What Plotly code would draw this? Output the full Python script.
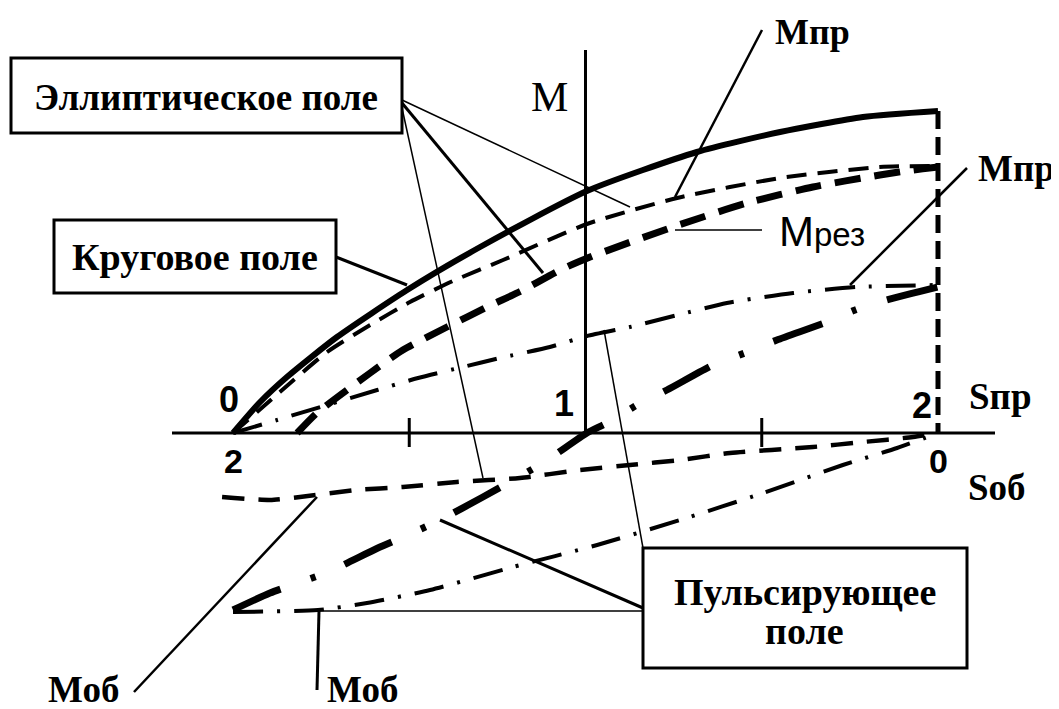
import plotly.graph_objects as go

# ---------------- data (s = slip of forward field, M = torque, arbitrary units) -------------
# Circular field, forward torque (solid)
s_circ = [0.0, 0.077, 0.153, 0.295, 0.494, 0.701, 1.004, 1.316, 1.552, 1.787, 2.0]
m_circ = [0.0, 0.31, 0.56, 0.96, 1.43, 1.86, 2.42, 2.81, 3.01, 3.16, 3.22]

# Elliptic field, forward torque Mпр (thin dashed)
s_ell_fwd = [0.0, 0.133, 0.267, 0.389, 0.502, 0.624, 0.766, 1.004, 1.260, 1.552, 1.835, 2.0]
m_ell_fwd = [0.0, 0.41, 0.81, 1.08, 1.31, 1.52, 1.73, 2.09, 2.35, 2.55, 2.66, 2.67]

# Elliptic field, resulting torque Mрез (thick dashed)
s_ell_res = [0.182, 0.238, 0.389, 0.482, 0.607, 0.721, 0.823, 0.928, 1.013, 1.248, 1.458, 1.645, 1.835, 1.929, 2.0]
m_ell_res = [0.0, 0.20, 0.60, 0.83, 1.06, 1.26, 1.43, 1.63, 1.76, 2.06, 2.30, 2.46, 2.58, 2.63, 2.66]

# Elliptic field, backward torque Mоб (thin dashed, below axis)
s_ell_bwd = [-0.031, 0.105, 0.190, 0.352, 0.482, 0.635, 0.814, 0.984, 1.126, 1.268, 1.410, 1.645, 1.787, 1.929, 2.0]
m_ell_bwd = [-0.64, -0.67, -0.64, -0.57, -0.54, -0.49, -0.45, -0.37, -0.32, -0.27, -0.20, -0.14, -0.09, -0.04, 0.0]

# Pulsating field, forward torque Mпр (thin dash-dot)
s_pul_fwd = [0.0, 0.125, 0.409, 0.525, 0.652, 0.757, 0.899, 1.004, 1.126, 1.262, 1.401, 1.589, 1.770, 2.0]
m_pul_fwd = [0.0, 0.13, 0.43, 0.55, 0.66, 0.75, 0.86, 0.97, 1.06, 1.18, 1.30, 1.40, 1.46, 1.48]

# Pulsating field, resulting torque (thick dash-dot)
s_pul_res = [0.0, 0.105, 0.184, 0.270, 0.411, 0.496, 0.587, 0.709, 0.879, 1.004, 1.061, 1.146,
             1.231, 1.362, 1.452, 1.543, 1.685, 1.765, 1.855, 2.0]
m_pul_res = [-1.77, -1.60, -1.50, -1.39, -1.15, -1.02, -0.87, -0.64, -0.30, 0.0, 0.10, 0.28,
             0.43, 0.68, 0.80, 0.93, 1.11, 1.23, 1.33, 1.46]

# Pulsating field, backward torque Mоб (thin dash-dot, below axis)
s_pul_bwd = [0.0, 0.241, 0.380, 0.559, 0.794, 1.033, 1.268, 1.504, 1.730, 1.884, 2.0]
m_pul_bwd = [-1.79, -1.77, -1.70, -1.57, -1.34, -1.12, -0.87, -0.60, -0.32, -0.15, 0.0]

# Axis tick labels
top_ticks = ["0", "1", "2"]
top_tick_s = [0.0, 1.0, 2.0]
bottom_ticks = ["2", "0"]
bottom_tick_s = [0.0, 2.0]
minor_tick_s = [0.5, 1.5]

# ---------------- layout helpers -------------
PAGE_W, PAGE_H = 1059, 709
OFF = 8                       # default body margin of the html page
W, H = PAGE_W - OFF, PAGE_H - OFF
SX0, SXK = 233.0, 352.5       # page px of s=0, px per unit of s
MY0, MYK = 433.0, 100.0       # page px of M=0, px per unit of M
X_MIN, X_MAX = (OFF - SX0) / SXK, (PAGE_W - SX0) / SXK
Y_MIN, Y_MAX = (MY0 - PAGE_H) / MYK, (MY0 - OFF) / MYK


def P(px, py):
    return (px - OFF) / W, 1 - (py - OFF) / H


SERIF = "Liberation Serif, Times New Roman, serif"
SANS = "Liberation Sans, Arial, sans-serif"

fig = go.Figure()


def curve(s, m, width, dash):
    fig.add_trace(go.Scatter(x=s, y=m, mode="lines",
                             line=dict(color="black", width=width, dash=dash, shape="spline", smoothing=0.6),
                             hoverinfo="skip", showlegend=False))


curve(s_circ, m_circ, 6, "solid")
curve([s_circ[-1], s_circ[-1]], [m_circ[-1], 0.0], 5, "18px,8px")
curve(s_ell_fwd, m_ell_fwd, 4, "20px,11px")
curve(s_ell_res, m_ell_res, 7, "26px,14px")
curve(s_ell_bwd, m_ell_bwd, 4.5, "22px,14px")
curve(s_pul_fwd, m_pul_fwd, 4, "30px,14px,3px,14px")
curve(s_pul_res, m_pul_res, 7, "52px,32px,5px,32px")
curve(s_pul_bwd, m_pul_bwd, 4, "30px,14px,3px,14px")

shapes = []
# axes
shapes.append(dict(type="line", xref="x", yref="y", x0=(172 - SX0) / SXK, x1=(995 - SX0) / SXK,
                   y0=0, y1=0, line=dict(color="black", width=3)))
shapes.append(dict(type="line", xref="x", yref="y", x0=1.0, x1=1.0, y0=0, y1=3.83,
                   line=dict(color="black", width=3)))
for t in minor_tick_s:
    shapes.append(dict(type="line", xref="x", yref="y", x0=t, x1=t, y0=0.15, y1=-0.14,
                       line=dict(color="black", width=3)))


def seg(p1, p2, w):
    a, b = P(*p1), P(*p2)
    shapes.append(dict(type="line", xref="paper", yref="paper", x0=a[0], y0=a[1], x1=b[0], y1=b[1],
                       line=dict(color="black", width=w)))


def box(p1, p2):
    a, b = P(*p1), P(*p2)
    shapes.append(dict(type="rect", xref="paper", yref="paper", x0=a[0], y0=a[1], x1=b[0], y1=b[1],
                       line=dict(color="black", width=3), fillcolor="white"))


# leader lines
seg((402, 100), (630, 207), 1.5)
seg((402, 103), (543, 273), 3)
seg((402, 108), (483, 478), 1.5)
seg((336, 257), (407, 285), 3)
seg((762, 30), (675, 197), 2.5)
seg((967, 168), (850, 285), 2.5)
seg((762, 230), (675, 230), 1.5)
seg((643, 548), (604, 330), 1.5)
seg((643, 608), (440, 520), 3)
seg((643, 611), (318, 611), 1.5)
seg((134, 692), (317, 497), 2.5)
seg((319, 611), (317, 690), 3)

# boxes
box((11, 58), (402, 133))
box((54, 220), (336, 293))
box((643, 548), (967, 668))

ann = []


def txt(text, px, py, size, family=SERIF, bold=True, xanchor="center"):
    x, y = P(px, py)
    ann.append(dict(text=text, x=x, y=y, xref="paper", yref="paper", showarrow=False,
                    xanchor=xanchor, yanchor="middle",
                    font=dict(family=family, size=size, color="black", weight="bold" if bold else "normal")))


txt("Эллиптическое поле", 206, 97, 37)
txt("Круговое поле", 195, 257, 38)
txt("Пульсирующее", 805, 592, 38)
txt("поле", 804, 631, 38)
txt("М", 549, 97, 42, bold=False)
txt("Мпр", 773, 32, 36, xanchor="left")
txt("Мпр", 976, 168, 37, xanchor="left")
txt("Sпр", 967, 396, 37, xanchor="left")
txt("Sоб", 966, 487, 37, xanchor="left")
txt("Моб", 46, 689, 37, xanchor="left")
txt("Моб", 325, 689, 37, xanchor="left")
txt("М<span style='font-size:33px'>рез</span>", 777, 231, 42, family=SANS, bold=False, xanchor="left")

# numeric tick labels, positioned in data coordinates
for lab, s, dx, dy in zip(top_ticks, top_tick_s, [-0.011, -0.06, -0.045], [0.34, 0.30, 0.28]):
    ann.append(dict(text=lab, x=s + dx, y=dy, xref="x", yref="y", showarrow=False,
                    font=dict(family=SANS, size=36, color="black", weight="bold")))
for lab, s, dy in zip(bottom_ticks, bottom_tick_s, [-0.28, -0.28]):
    ann.append(dict(text=lab, x=s, y=dy, xref="x", yref="y", showarrow=False,
                    font=dict(family=SANS, size=34, color="black", weight="bold")))

fig.update_layout(
    width=W, height=H, autosize=False,
    margin=dict(l=0, r=0, t=0, b=0),
    paper_bgcolor="white", plot_bgcolor="white",
    xaxis=dict(range=[X_MIN, X_MAX], visible=False, fixedrange=True),
    yaxis=dict(range=[Y_MIN, Y_MAX], visible=False, fixedrange=True),
    shapes=shapes, annotations=ann, showlegend=False,
)

fig.write_html("out.html")
